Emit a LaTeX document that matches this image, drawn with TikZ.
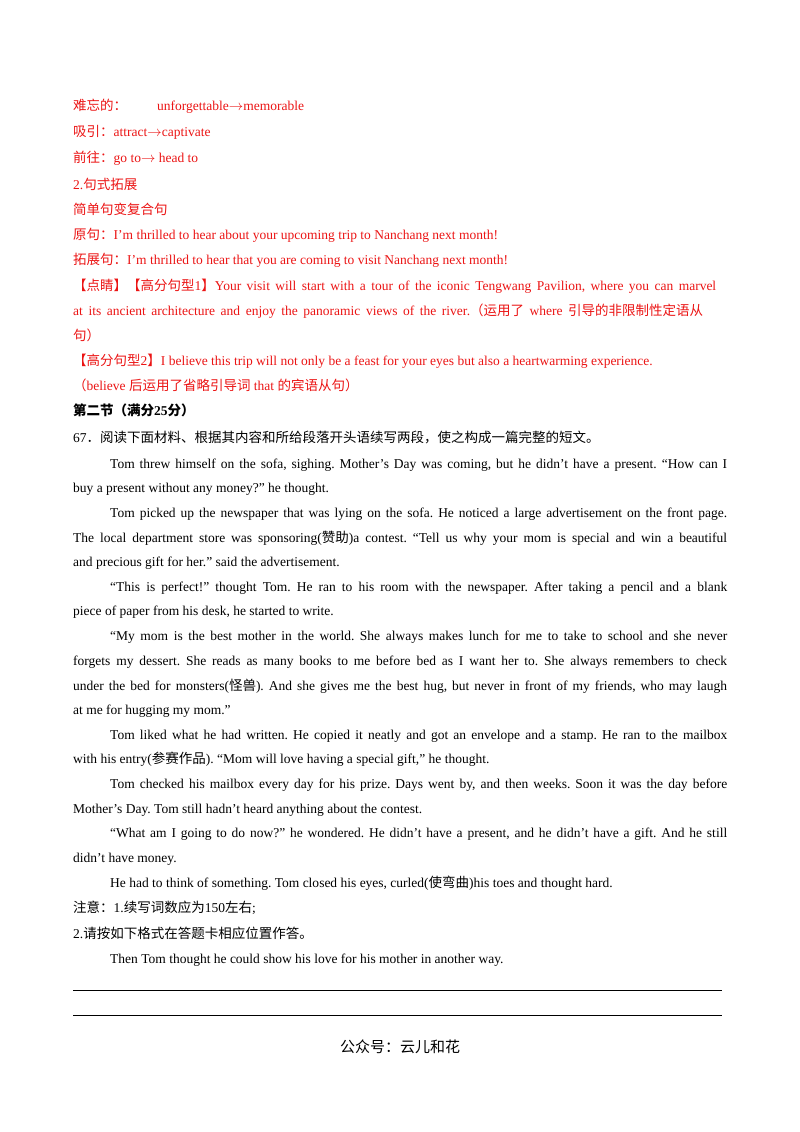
\documentclass[tikz,border=0pt]{standalone}
\usepackage{fontspec}
\setmainfont{Liberation Serif}
\newfontfamily\cjk{Noto Sans CJK SC}
\newcommand{\zh}[1]{{\cjk #1}}
\newcommand{\ra}{$\rightarrow$}
\definecolor{rd}{RGB}{235,20,20}
\begin{document}
\frenchspacing
\begin{tikzpicture}[x=1pt,y=-1pt,every node/.style={inner sep=0pt,anchor=base west,font=\fontsize{13.5}{16}\selectfont},
  r/.style={text=rd}]
\useasboundingbox (0,0) rectangle (800,1132);
\node[r] (a1) at (73,110) {\zh{难忘的：}};
\node[r] (a1b) at (157,110) {unforgettable\ra memorable};
\node[r] (a2) at (73,136) {\zh{吸引：}attract\ra captivate};
\node[r] (a3) at (73,162) {\zh{前往：}go to\ra\ head to};
\node[r] (a4) at (73,189) {2.\zh{句式拓展}};
\node[r] (a5) at (73,214) {\zh{简单句变复合句}};
\node[r] (a6) at (73,239) {\zh{原句：}I'm thrilled to hear about your upcoming trip to Nanchang next month!};
\node[r] (a7) at (73,264) {\zh{拓展句：}I'm thrilled to hear that you are coming to visit Nanchang next month!};
\node[r] (a8) at (73,290) {\hbox to 643pt{\zh{【点睛】【高分句型}1\zh{】}Your visit will start with a tour of the iconic Tengwang Pavilion, where you can marvel}};
\node[r] (a9) at (73,315) {\hbox to 630pt{at its ancient architecture and enjoy the panoramic views of the river.\zh{（运用了} where \zh{引导的非限制性定语从}}};
\node[r] (a10) at (73,340) {\zh{句）}};
\node[r] (a11) at (73,365) {\zh{【高分句型}2\zh{】}I believe this trip will not only be a feast for your eyes but also a heartwarming experience.};
\node[r] (a12) at (73,390) {\zh{（}believe \zh{后运用了省略引导词} that \zh{的宾语从句）}};
\node (b1) at (73,415) {\zh{\bfseries 第二节（满分}\textbf{25}\zh{\bfseries 分）}};
\node (b2) at (73,442) {67\zh{．阅读下面材料、根据其内容和所给段落开头语续写两段，使之构成一篇完整的短文。}};
\node (p1) at (110,468) {\hbox to 617pt{Tom threw himself on the sofa, sighing. Mother’s Day was coming, but he didn’t have a present. “How can I}};
\node (p2) at (73,492) {buy a present without any money?” he thought.};
\node (p3) at (110,517) {\hbox to 617pt{Tom picked up the newspaper that was lying on the sofa. He noticed a large advertisement on the front page.}};
\node (p4) at (73,542) {\hbox to 654pt{The local department store was sponsoring(\zh{赞助})a contest. “Tell us why your mom is special and win a beautiful}};
\node (p5) at (73,566) {and precious gift for her.” said the advertisement.};
\node (p6) at (110,591) {\hbox to 617pt{“This is perfect!” thought Tom. He ran to his room with the newspaper. After taking a pencil and a blank}};
\node (p7) at (73,615) {piece of paper from his desk, he started to write.};
\node (p8) at (110,640) {\hbox to 617pt{“My mom is the best mother in the world. She always makes lunch for me to take to school and she never}};
\node (p9) at (73,665) {\hbox to 654pt{forgets my dessert. She reads as many books to me before bed as I want her to. She always remembers to check}};
\node (p10) at (73,690) {\hbox to 654pt{under the bed for monsters(\zh{怪兽}). And she gives me the best hug, but never in front of my friends, who may laugh}};
\node (p11) at (73,714) {at me for hugging my mom.”};
\node (p12) at (110,739) {\hbox to 617pt{Tom liked what he had written. He copied it neatly and got an envelope and a stamp. He ran to the mailbox}};
\node (p13) at (73,763) {with his entry(\zh{参赛作品}). “Mom will love having a special gift,” he thought.};
\node (p14) at (110,788) {\hbox to 617pt{Tom checked his mailbox every day for his prize. Days went by, and then weeks. Soon it was the day before}};
\node (p15) at (73,813) {Mother’s Day. Tom still hadn’t heard anything about the contest.};
\node (p16) at (110,837) {\hbox to 617pt{“What am I going to do now?” he wondered. He didn’t have a present, and he didn’t have a gift. And he still}};
\node (p17) at (73,862) {didn’t have money.};
\node (p18) at (110,887) {He had to think of something. Tom closed his eyes, curled(\zh{使弯曲})his toes and thought hard.};
\node (c1) at (73,912) {\zh{注意：}1.\zh{续写词数应为}150\zh{左右}; };
\node (c2) at (73,938) {2.\zh{请按如下格式在答题卡相应位置作答。}};
\node (c3) at (110,963) {Then Tom thought he could show his love for his mother in another way.};
\coordinate (l1a) at (73,990); \coordinate (l1b) at (722,990);
\coordinate (l2a) at (73,1015); \coordinate (l2b) at (722,1015);
\draw[line width=0.6pt] (l1a) -- (l1b);
\draw[line width=0.6pt] (l2a) -- (l2b);
\node[anchor=center,font=\fontsize{15}{18}\selectfont] (f) at (400,1047) {\zh{公众号：云儿和花}};
\end{tikzpicture}
\end{document}
